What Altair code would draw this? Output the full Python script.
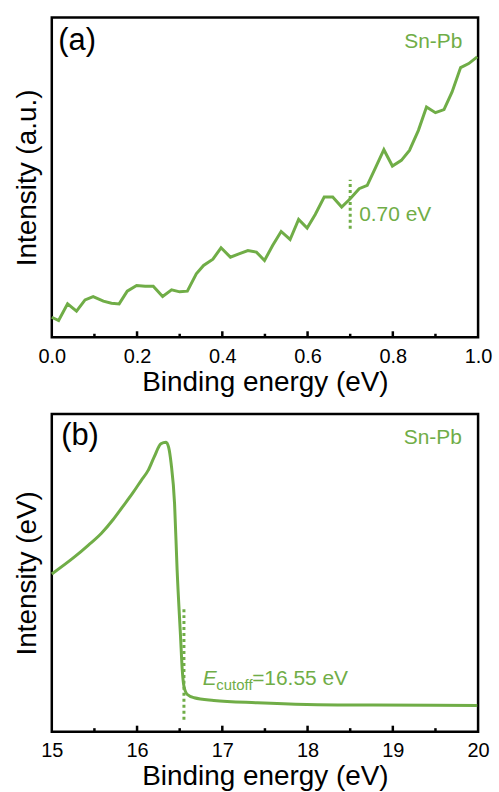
import altair as alt
import pandas as pd

GREEN = "#70AD47"
FONT = "Liberation Sans"

# ---- panel (a) data ----
a_x = [0.0, 0.016, 0.037, 0.058, 0.078, 0.097, 0.121, 0.140, 0.158, 0.177, 0.199, 0.219,
       0.238, 0.260, 0.281, 0.300, 0.318, 0.339, 0.356, 0.378, 0.397, 0.419, 0.439, 0.460,
       0.480, 0.499, 0.518, 0.538, 0.559, 0.579, 0.599, 0.618, 0.639, 0.659, 0.680, 0.700,
       0.721, 0.740, 0.760, 0.779, 0.799, 0.820, 0.839, 0.860, 0.879, 0.900, 0.920, 0.939,
       0.959, 0.978, 0.998]
a_y = [60, 50, 100, 78, 112, 122, 108, 102, 100, 138, 155, 153,
       153, 122, 142, 136, 138, 190, 215, 234, 268, 240, 250, 260,
       255, 230, 275, 317, 293, 353, 327, 368, 420, 420, 390, 415,
       445, 455, 510, 562, 513, 530, 560, 620, 690, 673, 682, 735,
       808, 820, 840]
a_ticks = [0.0, 0.2, 0.4, 0.6, 0.8, 1.0]
a_major = [0.2, 0.4, 0.6, 0.8]
a_minor = [0.1, 0.3, 0.5, 0.7, 0.9]
a_mark = 0.70

# ---- panel (b) data ----
b_x = [15.0, 15.27, 15.43, 15.58, 15.72, 15.83, 15.95, 16.05, 16.13, 16.20, 16.28, 16.34,
       16.37, 16.40, 16.44, 16.47, 16.51, 16.53, 16.55, 16.59, 16.67, 16.90, 17.41, 17.99,
       18.77, 19.99]
b_y = [475, 527, 562, 597, 639, 677, 719, 757, 787, 827, 867, 872,
       857, 807, 687, 487, 287, 187, 137, 112, 102, 94, 87, 82,
       80, 79]
b_ticks = [15, 16, 17, 18, 19, 20]
b_major = [16, 17, 18, 19]
b_minor = [15.5, 16.5, 17.5, 18.5, 19.5]
b_mark = 16.55

W = 428
HA = 321
HB = 319


def panel(xs, ys, xdom, ydom, ticks, major, minor, fmt, ytitle, h, mark_x, mark_y0, mark_y1,
          label_texts, interp):
    line_df = pd.DataFrame({"x": xs, "y": ys})
    xscale = alt.Scale(domain=xdom, nice=False, zero=False)
    yscale = alt.Scale(domain=ydom, nice=False, zero=False)
    xaxis = alt.Axis(values=ticks, format=fmt, title="Binding energy (eV)", ticks=False,
                     tickSize=0, domain=False, grid=False, labelFontSize=20,
                     labelColor="black", labelFont=FONT, labelPadding=9,
                     titleFontSize=28, titleFont=FONT, titleFontWeight="normal",
                     titleColor="black", titlePadding=2, labelFlush=False)
    yaxis = alt.Axis(labels=False, ticks=False, tickSize=0, domain=False, grid=False,
                     title=ytitle, titleFontSize=28, titleFont=FONT,
                     titleFontWeight="normal", titleColor="black", titlePadding=10)
    base_line = alt.Chart(line_df).mark_line(color=GREEN, strokeWidth=3,
                                             interpolate=interp).encode(
        x=alt.X("x:Q", scale=xscale, axis=xaxis),
        y=alt.Y("y:Q", scale=yscale, axis=yaxis),
    )
    mark_df = pd.DataFrame({"x": [mark_x], "y0": [mark_y0], "y1": [mark_y1]})
    dotted = alt.Chart(mark_df).mark_rule(color=GREEN, strokeWidth=3,
                                          strokeDash=[3, 3]).encode(
        x=alt.X("x:Q", scale=xscale), y=alt.Y("y0:Q", scale=yscale), y2="y1:Q")
    maj_df = pd.DataFrame({"t": major})
    min_df = pd.DataFrame({"t": minor})
    maj = alt.Chart(maj_df).mark_rule(color="black", strokeWidth=2.5).encode(
        x=alt.X("t:Q", scale=xscale), y=alt.value(h), y2=alt.value(h - 6))
    mnr = alt.Chart(min_df).mark_rule(color="black", strokeWidth=2.5).encode(
        x=alt.X("t:Q", scale=xscale), y=alt.value(h), y2=alt.value(h - 3.5))
    layers = [base_line, dotted, maj, mnr]
    for (txt, tx, ty, size, color, align, style) in label_texts:
        tdf = pd.DataFrame({"x": [tx], "y": [ty], "t": [txt]})
        layers.append(
            alt.Chart(tdf).mark_text(font=FONT, fontSize=size, color=color, align=align,
                                     baseline="alphabetic", fontStyle=style).encode(
                x=alt.X("x:Q", scale=xscale), y=alt.Y("y:Q", scale=yscale), text="t:N"))
    return alt.layer(*layers).properties(width=W, height=h)


top = panel(a_x, a_y, [0, 1], [0, 958], a_ticks, a_major, a_minor, ".1f",
            "Intensity (a.u.)", HA, a_mark, 325, 472,
            [("(a)", 0.015, 862, 31, "black", "left", "normal"),
             ("Sn-Pb", 0.963, 868, 21, GREEN, "right", "normal"),
             ("0.70 eV", 0.721, 349, 21, GREEN, "left", "normal")],
            "linear")

bottom = panel(b_x, b_y, [15, 20], [0, 957], b_ticks, b_major, b_minor, "d",
               "Intensity (eV)", HB, b_mark, 36, 372,
               [("(b)", 15.11, 862, 31, "black", "left", "normal"),
                ("Sn-Pb", 19.81, 867, 21, GREEN, "right", "normal"),
                ("E", 16.77, 142, 21, GREEN, "left", "italic"),
                ("cutoff", 16.93, 127, 15, GREEN, "left", "normal"),
                ("=16.55 eV", 17.35, 142, 21, GREEN, "left", "normal")],
               "monotone")

chart = alt.vconcat(top, bottom, spacing=14).properties(
    padding={"left": 12, "top": 14, "right": 5, "bottom": 5}
).configure(
    background="white",
    view=alt.ViewConfig(stroke="black", strokeWidth=2.5),
)

chart.save("out.html", embed_options={"renderer": "svg", "actions": False})
